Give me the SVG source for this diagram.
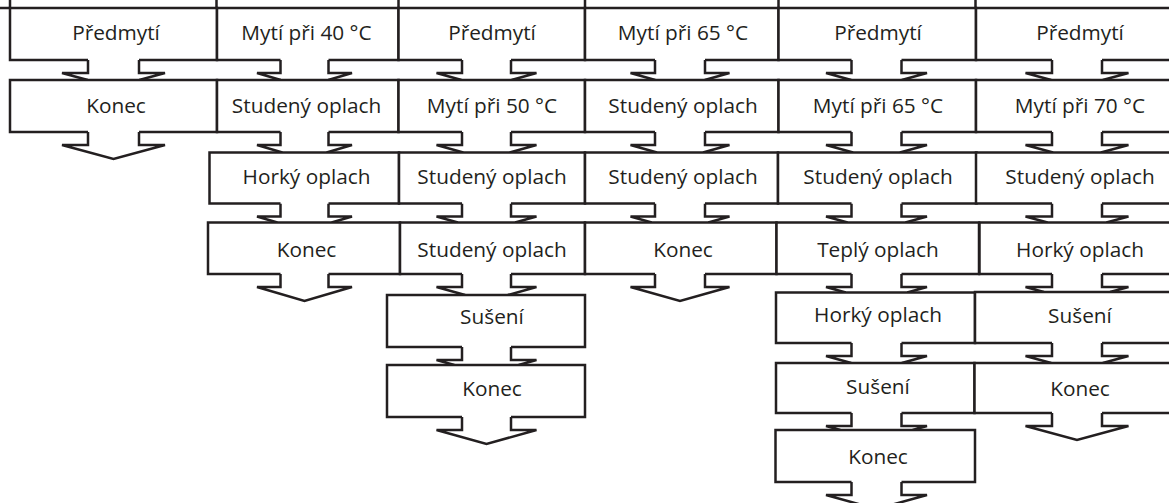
<svg xmlns="http://www.w3.org/2000/svg" width="1169" height="503" viewBox="0 0 1169 503">
<style>
.ln{fill:none;stroke:#231f20;stroke-width:2.5;stroke-linejoin:miter;stroke-linecap:butt}
.bx{fill:#fff;stroke:#231f20;stroke-width:2.5;stroke-linejoin:miter}
text{font-family:"Open Sans","Noto Sans",sans-serif;font-size:20.8px;fill:#231f20;text-anchor:middle}
</style>
<rect width="1169" height="503" fill="#fff"/>
<g id="header"><path class="ln" d="M0,8 H10 M10,0 V8 M216.5,0 V8 M398.5,0 V8 M585,0 V8 M778.5,0 V8 M975.5,0 V8"/></g>
<g id="connectors" class="ln">
<path d="M88,60 V73 H62 L87.75,80 M139,60 V73 H165 L139.25,80"/>
<path d="M88,132 V145 H62 L113.5,159 L165,145 H139 V132"/>
<path d="M280.5,60 V73 H257 L280.75,80 M328.5,60 V73 H352 L328.25,80"/>
<path d="M280.5,132 V145 H257 L282.4,152.5 M328.5,132 V145 H352 L326.6,152.5"/>
<path d="M280.5,203.5 V216.5 H257 L277.4,222.5 M328.5,203.5 V216.5 H352 L331.6,222.5"/>
<path d="M280.5,274 V287 H257 L304.5,301 L352,287 H328.5 V274"/>
<path d="M462,60 V73 H436.5 L461.5,80 M511,60 V73 H536.5 L511.5,80"/>
<path d="M462,132 V145 H436.5 L463.3,152.5 M511,132 V145 H536.5 L509.7,152.5"/>
<path d="M462,203.5 V216.5 H436.5 L457.9,222.5 M511,203.5 V216.5 H536.5 L515.1,222.5"/>
<path d="M462,274 V287 H436.5 L465.1,295 M511,274 V287 H536.5 L507.9,295"/>
<path d="M462,347 V360 H436.5 L454.4,365 M511,347 V360 H536.5 L518.6,365"/>
<path d="M462,417 V430 H436.5 L486.5,444 L536.5,430 H511 V417"/>
<path d="M655,60 V73 H630.5 L655.25,80 M705,60 V73 H729.5 L704.75,80"/>
<path d="M655,132 V145 H630.5 L657,152.5 M705,132 V145 H729.5 L703,152.5"/>
<path d="M655,203.5 V216.5 H630.5 L651.7,222.5 M705,203.5 V216.5 H729.5 L708.3,222.5"/>
<path d="M655,274 V287 H630.5 L680,301 L729.5,287 H705 V274"/>
<path d="M851.5,60 V73 H826 L851.25,80 M901.5,60 V73 H927 L901.75,80"/>
<path d="M851.5,132 V145 H826 L853.1,152.5 M901.5,132 V145 H927 L899.9,152.5"/>
<path d="M851.5,203.5 V216.5 H826 L847.6,222.5 M901.5,203.5 V216.5 H927 L905.4,222.5"/>
<path d="M851.5,274 V287 H826 L845.8,292.5 M901.5,274 V287 H927 L907.2,292.5"/>
<path d="M851.5,343 V356 H826 L851.25,363 M901.5,343 V356 H927 L901.75,363"/>
<path d="M851.5,413 V426 H826 L840.4,430 M901.5,413 V426 H927 L912.6,430"/>
<path d="M851.5,482 V495 H826 L876.5,509 L927,495 H901.5 V482"/>
<path d="M1052,60 V73 H1025.5 L1051.25,80 M1102,60 V73 H1128.5 L1102.75,80"/>
<path d="M1052,132 V145 H1025.5 L1053.1,152.5 M1102,132 V145 H1128.5 L1100.9,152.5"/>
<path d="M1052,203.5 V216.5 H1025.5 L1047.6,222.5 M1102,203.5 V216.5 H1128.5 L1106.4,222.5"/>
<path d="M1052,274 V287 H1025.5 L1043.9,292 M1102,274 V287 H1128.5 L1110.1,292"/>
<path d="M1052,343 V356 H1025.5 L1051.25,363 M1102,343 V356 H1128.5 L1102.75,363"/>
<path d="M1052,413 V426 H1025.5 L1077,440 L1128.5,426 H1102 V413"/>
</g>
<g id="c1r1"><path class="bx" d="M88,60 H10 V8 H217 V60 H139"/><text x="116" y="40">Předmytí</text></g>
<g id="c1r2"><path class="bx" d="M88,132 H10 V80 H217 V132 H139"/><text x="116" y="113">Konec</text></g>
<g id="c2r1"><path class="bx" d="M280.5,60 H217 V8 H398.5 V60 H328.5"/><text x="306.5" y="40">Mytí při 40 °C</text></g>
<g id="c2r2"><path class="bx" d="M280.5,132 H217 V80 H398.5 V132 H328.5"/><text x="306.5" y="113">Studený oplach</text></g>
<g id="c2r3"><path class="bx" d="M280.5,203.5 H209.5 V152.5 H399 V203.5 H328.5"/><text x="306.5" y="183.5">Horký oplach</text></g>
<g id="c2r4"><path class="bx" d="M280.5,274 H208 V222.5 H400 V274 H328.5"/><text x="306.5" y="256.5">Konec</text></g>
<g id="c3r1"><path class="bx" d="M462,60 H398.5 V8 H585 V60 H511"/><text x="492" y="40">Předmytí</text></g>
<g id="c3r2"><path class="bx" d="M462,132 H398.5 V80 H585 V132 H511"/><text x="492" y="113">Mytí při 50 °C</text></g>
<g id="c3r3"><path class="bx" d="M462,203.5 H399 V152.5 H585 V203.5 H511"/><text x="492" y="183.5">Studený oplach</text></g>
<g id="c3r4"><path class="bx" d="M462,274 H400 V222.5 H585 V274 H511"/><text x="492" y="256.5">Studený oplach</text></g>
<g id="c3r5"><path class="bx" d="M462,347 H387 V295 H585 V347 H511"/><text x="492" y="323.5">Sušení</text></g>
<g id="c3r6"><path class="bx" d="M462,417 H387 V365 H585 V417 H511"/><text x="492" y="396">Konec</text></g>
<g id="c4r1"><path class="bx" d="M655,60 H585 V8 H778.5 V60 H705"/><text x="683" y="40">Mytí při 65 °C</text></g>
<g id="c4r2"><path class="bx" d="M655,132 H585 V80 H778.5 V132 H705"/><text x="683" y="113">Studený oplach</text></g>
<g id="c4r3"><path class="bx" d="M655,203.5 H585 V152.5 H778 V203.5 H705"/><text x="683" y="183.5">Studený oplach</text></g>
<g id="c4r4"><path class="bx" d="M655,274 H585 V222.5 H776.5 V274 H705"/><text x="683" y="256.5">Konec</text></g>
<g id="c5r1"><path class="bx" d="M851.5,60 H778.5 V8 H976 V60 H901.5"/><text x="878" y="40">Předmytí</text></g>
<g id="c5r2"><path class="bx" d="M851.5,132 H778.5 V80 H976 V132 H901.5"/><text x="878" y="113">Mytí při 65 °C</text></g>
<g id="c5r3"><path class="bx" d="M851.5,203.5 H778 V152.5 H976.5 V203.5 H901.5"/><text x="878" y="183.5">Studený oplach</text></g>
<g id="c5r4"><path class="bx" d="M851.5,274 H776.5 V222.5 H979 V274 H901.5"/><text x="878" y="256.5">Teplý oplach</text></g>
<g id="c5r5"><path class="bx" d="M851.5,343 H776 V292.5 H975 V343 H901.5"/><text x="878" y="322">Horký oplach</text></g>
<g id="c5r6"><path class="bx" d="M851.5,413 H776 V363 H974.5 V413 H901.5"/><text x="878" y="393.5">Sušení</text></g>
<g id="c5r7"><path class="bx" d="M851.5,482 H775.5 V430 H975 V482 H901.5"/><text x="878" y="463.5">Konec</text></g>
<g id="c6r1"><path class="bx" d="M1052,60 H976 V8 H1185 V60 H1102"/><text x="1080" y="40">Předmytí</text></g>
<g id="c6r2"><path class="bx" d="M1052,132 H976 V80 H1185 V132 H1102"/><text x="1080" y="113">Mytí při 70 °C</text></g>
<g id="c6r3"><path class="bx" d="M1052,203.5 H976 V152.5 H1185 V203.5 H1102"/><text x="1080" y="183.5">Studený oplach</text></g>
<g id="c6r4"><path class="bx" d="M1052,274 H979.5 V222.5 H1185 V274 H1102"/><text x="1080" y="256.5">Horký oplach</text></g>
<g id="c6r5"><path class="bx" d="M1052,343 H975 V292 H1185 V343 H1102"/><text x="1080" y="322.5">Sušení</text></g>
<g id="c6r6"><path class="bx" d="M1052,413 H974.5 V363 H1185 V413 H1102"/><text x="1080" y="396">Konec</text></g>
</svg>
